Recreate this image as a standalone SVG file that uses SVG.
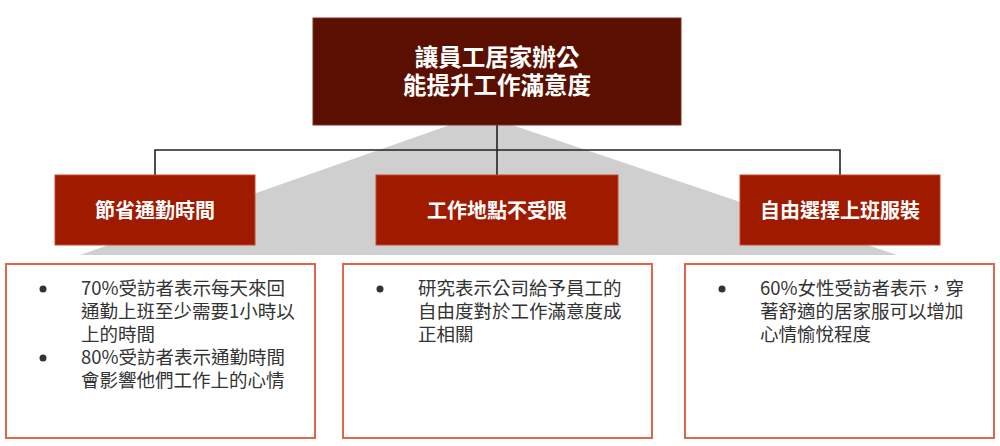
<svg xmlns="http://www.w3.org/2000/svg" width="1000" height="446" viewBox="0 0 1000 446" xml:lang="zh-TW">
<style>
.top{fill:#5a0f00;stroke:#7a3020;stroke-width:1}
.mid{fill:#a01a00;stroke:#c04a30;stroke-width:1}
.card{fill:#ffffff;stroke:#e0664a;stroke-width:2}
.tt{font-family:"Noto Sans CJK TC","Noto Sans",sans-serif;font-weight:bold;fill:#ffffff;text-anchor:middle}
.bt{font-family:"Noto Sans CJK TC","Noto Sans",sans-serif;font-size:18.5px;fill:#333333}
.dot{fill:#333333}
.conn{fill:none;stroke:#222222;stroke-width:1.6}
</style>
<rect width="1000" height="446" fill="#ffffff"/>
<polygon points="450,125 512,125 897,255 80,255" fill="#d0cfd0"/>
<g id="connectors">
<path class="conn" d="M497,125 V150 M155,175 V150 H840 V175 M497,150 V175"/>
</g>
<g id="root">
<rect class="top" x="313" y="18" width="368" height="107"/>
<text class="tt" x="497" y="66" font-size="23.5">讓員工居家辦公</text>
<text class="tt" x="497" y="94" font-size="23.5">能提升工作滿意度</text>
</g>
<g id="n1">
<rect class="mid" x="55" y="175" width="200" height="70"/>
<text class="tt" x="155" y="218" font-size="20">節省通勤時間</text>
</g>
<g id="n2">
<rect class="mid" x="376" y="175" width="242" height="70"/>
<text class="tt" x="497" y="218" font-size="20">工作地點不受限</text>
</g>
<g id="n3">
<rect class="mid" x="740" y="175" width="200" height="70"/>
<text class="tt" x="840" y="218" font-size="20">自由選擇上班服裝</text>
</g>
<g id="c1">
<rect class="card" x="6" y="264" width="309" height="174"/>
<circle class="dot" cx="43" cy="289" r="3.5"/>
<circle class="dot" cx="43" cy="358" r="3.5"/>
<text class="bt" x="81" y="295">70%受訪者表示每天來回</text>
<text class="bt" x="81" y="318">通勤上班至少需要1小時以</text>
<text class="bt" x="81" y="341">上的時間</text>
<text class="bt" x="81" y="364">80%受訪者表示通勤時間</text>
<text class="bt" x="81" y="387">會影響他們工作上的心情</text>
</g>
<g id="c2">
<rect class="card" x="343" y="264" width="309" height="174"/>
<circle class="dot" cx="380" cy="289" r="3.5"/>
<text class="bt" x="418" y="295">研究表示公司給予員工的</text>
<text class="bt" x="418" y="318">自由度對於工作滿意度成</text>
<text class="bt" x="418" y="341">正相關</text>
</g>
<g id="c3">
<rect class="card" x="685" y="264" width="309" height="174"/>
<circle class="dot" cx="722" cy="289" r="3.5"/>
<text class="bt" x="760" y="295">60%女性受訪者表示，穿</text>
<text class="bt" x="760" y="318">著舒適的居家服可以增加</text>
<text class="bt" x="760" y="341">心情愉悅程度</text>
</g>
</svg>
